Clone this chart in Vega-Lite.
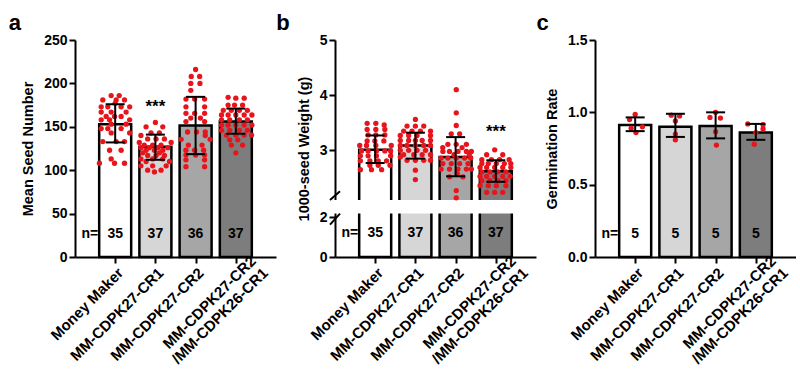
{
  "$schema": "https://vega.github.io/schema/vega-lite/v6.json",
  "padding": {"left": 8, "top": 12, "right": 0, "bottom": 0},
  "spacing": 0,
  "config": {
    "view": {"stroke": null},
    "font": "Liberation Sans",
    "axis": {"domainColor": "black", "domainWidth": 2, "tickColor": "black", "tickWidth": 2, "tickSize": 6, "labelPadding": 2, "labelColor": "black", "labelFont": "Liberation Sans", "labelFontWeight": "bold", "labelFontSize": 14, "titleFont": "Liberation Sans", "titleFontWeight": "bold", "titleFontSize": 14.5, "titleColor": "black", "titlePadding": 8, "grid": false, "labelFlush": false, "labelOverlap": false, "labelBound": false},
    "axisY": {"minExtent": 0},
    "axisX": {"title": null, "values": [0,1,2,3], "labelAngle": -45, "labelFontSize": 15,
              "labelOffset": {"condition": {"test": "datum.value == 3", "value": 12}, "value": 0},
              "labelPadding": {"condition": {"test": "datum.value == 3", "value": -10}, "value": 2},
              "labelExpr": "datum.value==0?'Money Maker':datum.value==1?'MM-CDPK27-CR1':datum.value==2?'MM-CDPK27-CR2':['MM-CDPK27-CR2\u00a0\u00a0\u00a0\u00a0','/MM-CDPK26-CR1']"},
    "title": {"anchor": "start", "frame": "bounds", "fontSize": 22, "font": "Liberation Sans", "fontWeight": "bold", "color": "black", "offset": -2},
    "text": {"font": "Liberation Sans", "fontWeight": "bold", "fontSize": 14, "color": "black"}
  },
  "datasets": {
    "sumA": [
      {"g": "MM", "m": 153, "lo": 132, "hi": 176, "n": 35, "sig": ""},
      {"g": "C1", "m": 127, "lo": 112, "hi": 141, "n": 37, "sig": "***"},
      {"g": "C2", "m": 151.5, "lo": 118.5, "hi": 184.5, "n": 36, "sig": ""},
      {"g": "C3", "m": 156, "lo": 142, "hi": 171, "n": 37, "sig": ""}
    ],
    "sumB": [
      {"g": "MM", "m": 3.01, "lo": 2.77, "hi": 3.27, "n": 35, "sig": ""},
      {"g": "C1", "m": 3.09, "lo": 2.85, "hi": 3.32, "n": 37, "sig": ""},
      {"g": "C2", "m": 2.88, "lo": 2.53, "hi": 3.24, "n": 36, "sig": ""},
      {"g": "C3", "m": 2.62, "lo": 2.43, "hi": 2.82, "n": 37, "sig": "***"}
    ],
    "sumC": [
      {"g": "MM", "m": 0.912, "lo": 0.87, "hi": 0.965, "n": 5},
      {"g": "C1", "m": 0.9, "lo": 0.83, "hi": 0.99, "n": 5},
      {"g": "C2", "m": 0.905, "lo": 0.82, "hi": 1.0, "n": 5},
      {"g": "C3", "m": 0.86, "lo": 0.81, "hi": 0.92, "n": 5}
    ],
    "ptsA": [
      {"g":"MM","v":186,"j":-0.25},{"g":"MM","v":186,"j":0.25},
      {"g":"MM","v":181,"j":-0.77},{"g":"MM","v":181,"j":0.06},{"g":"MM","v":181,"j":0.58},
      {"g":"MM","v":177,"j":0},
      {"g":"MM","v":173,"j":-0.87},{"g":"MM","v":173,"j":-0.46},{"g":"MM","v":173,"j":0.37},{"g":"MM","v":173,"j":0.9},
      {"g":"MM","v":167,"j":-0.87},{"g":"MM","v":167,"j":-0.25},{"g":"MM","v":167,"j":0.68},
      {"g":"MM","v":162,"j":-0.56},{"g":"MM","v":162,"j":-0.04},{"g":"MM","v":162,"j":0.37},
      {"g":"MM","v":158,"j":-0.87},{"g":"MM","v":158,"j":-0.35},{"g":"MM","v":158,"j":0.9},
      {"g":"MM","v":153,"j":-0.25},{"g":"MM","v":153,"j":0.68},
      {"g":"MM","v":148,"j":-0.87},{"g":"MM","v":148,"j":-0.46},{"g":"MM","v":148,"j":0.37},
      {"g":"MM","v":143,"j":-0.25},{"g":"MM","v":143,"j":0.9},
      {"g":"MM","v":133,"j":-0.77},{"g":"MM","v":133,"j":0.06},{"g":"MM","v":133,"j":0.58},
      {"g":"MM","v":123,"j":-0.35},{"g":"MM","v":123,"j":0.37},
      {"g":"MM","v":113,"j":-0.25},
      {"g":"MM","v":108,"j":-0.98},{"g":"MM","v":108,"j":-0.04},{"g":"MM","v":108,"j":0.58},
      {"g":"C1","v":155,"j":0},
      {"g":"C1","v":150,"j":-0.58},{"g":"C1","v":150,"j":0.46},
      {"g":"C1","v":143,"j":-0.27},{"g":"C1","v":143,"j":0.25},
      {"g":"C1","v":140,"j":-0.9},
      {"g":"C1","v":136,"j":-0.48},{"g":"C1","v":136,"j":0.04},{"g":"C1","v":136,"j":0.56},
      {"g":"C1","v":132,"j":-1.0},{"g":"C1","v":132,"j":0.98},
      {"g":"C1","v":129,"j":-0.69},{"g":"C1","v":129,"j":-0.17},{"g":"C1","v":129,"j":0.35},
      {"g":"C1","v":126,"j":-0.9},{"g":"C1","v":126,"j":-0.38},{"g":"C1","v":126,"j":0.15},{"g":"C1","v":126,"j":0.77},
      {"g":"C1","v":123,"j":-0.58},{"g":"C1","v":123,"j":-0.06},{"g":"C1","v":123,"j":0.46},
      {"g":"C1","v":120,"j":-0.79},{"g":"C1","v":120,"j":0.25},
      {"g":"C1","v":117,"j":-0.48},{"g":"C1","v":117,"j":0.04},{"g":"C1","v":117,"j":0.56},
      {"g":"C1","v":113,"j":-0.9},{"g":"C1","v":113,"j":-0.17},{"g":"C1","v":113,"j":0.46},
      {"g":"C1","v":110,"j":-0.58},{"g":"C1","v":110,"j":0.88},
      {"g":"C1","v":105,"j":-0.9},{"g":"C1","v":105,"j":-0.17},{"g":"C1","v":105,"j":0.67},
      {"g":"C1","v":100,"j":-0.48},{"g":"C1","v":100,"j":0.35},
      {"g":"C1","v":98,"j":-0.06},
      {"g":"C2","v":216,"j":0},
      {"g":"C2","v":208,"j":-0.27},{"g":"C2","v":208,"j":0.25},
      {"g":"C2","v":200,"j":-0.3},{"g":"C2","v":200,"j":0.27},
      {"g":"C2","v":192,"j":-0.3},
      {"g":"C2","v":182,"j":-0.6},{"g":"C2","v":182,"j":-0.06},{"g":"C2","v":182,"j":0.56},
      {"g":"C2","v":173,"j":-0.6},{"g":"C2","v":173,"j":0.56},
      {"g":"C2","v":165.5,"j":-0.6},{"g":"C2","v":165.5,"j":-0.06},{"g":"C2","v":165.5,"j":0.56},
      {"g":"C2","v":160,"j":-0.3},{"g":"C2","v":160,"j":0.3},
      {"g":"C2","v":156,"j":-0.6},{"g":"C2","v":156,"j":0.56},
      {"g":"C2","v":144,"j":-0.5},{"g":"C2","v":144,"j":0.06},{"g":"C2","v":144,"j":0.6},
      {"g":"C2","v":140,"j":0.6},
      {"g":"C2","v":135.6,"j":-0.9},{"g":"C2","v":135.6,"j":0.9},
      {"g":"C2","v":129,"j":-0.45},{"g":"C2","v":129,"j":0.4},
      {"g":"C2","v":123,"j":-0.6},{"g":"C2","v":123,"j":-0.06},{"g":"C2","v":123,"j":0.5},
      {"g":"C2","v":117.5,"j":-0.6},{"g":"C2","v":117.5,"j":0},{"g":"C2","v":117.5,"j":0.56},
      {"g":"C2","v":112,"j":-0.6},{"g":"C2","v":112,"j":0.56},
      {"g":"C2","v":104,"j":-0.6},{"g":"C2","v":104,"j":0.56},
      {"g":"C3","v":184,"j":-0.48},
      {"g":"C3","v":183,"j":0},{"g":"C3","v":183,"j":0.52},
      {"g":"C3","v":175,"j":-0.48},{"g":"C3","v":175,"j":-0.08},{"g":"C3","v":175,"j":0.42},
      {"g":"C3","v":169,"j":-0.78},{"g":"C3","v":169,"j":-0.28},{"g":"C3","v":169,"j":0.22},{"g":"C3","v":169,"j":0.72},
      {"g":"C3","v":163.6,"j":-0.89},{"g":"C3","v":163.6,"j":-0.48},{"g":"C3","v":163.6,"j":0},{"g":"C3","v":163.6,"j":0.52},{"g":"C3","v":163.6,"j":1.0},
      {"g":"C3","v":158,"j":-0.89},{"g":"C3","v":158,"j":-0.38},{"g":"C3","v":158,"j":0.22},{"g":"C3","v":158,"j":0.72},
      {"g":"C3","v":152,"j":-0.89},{"g":"C3","v":152,"j":-0.48},{"g":"C3","v":152,"j":0},{"g":"C3","v":152,"j":0.52},{"g":"C3","v":152,"j":1.0},
      {"g":"C3","v":146,"j":-0.89},{"g":"C3","v":146,"j":-0.38},{"g":"C3","v":146,"j":0.22},{"g":"C3","v":146,"j":0.72},
      {"g":"C3","v":140.5,"j":-0.58},{"g":"C3","v":140.5,"j":0},{"g":"C3","v":140.5,"j":0.52},{"g":"C3","v":140.5,"j":0.98},
      {"g":"C3","v":135,"j":-0.38},{"g":"C3","v":135,"j":0.12},
      {"g":"C3","v":129,"j":-0.28},{"g":"C3","v":129,"j":0.42},
      {"g":"C3","v":120,"j":0}
    ],
    "ptsB": [
      {"g":"MM","v":3.49,"j":-0.5},{"g":"MM","v":3.49,"j":0.04},
      {"g":"MM","v":3.46,"j":0.56},
      {"g":"MM","v":3.38,"j":-0.5},{"g":"MM","v":3.38,"j":0.04},{"g":"MM","v":3.38,"j":0.6},
      {"g":"MM","v":3.28,"j":-0.44},{"g":"MM","v":3.28,"j":0.04},{"g":"MM","v":3.28,"j":0.6},
      {"g":"MM","v":3.17,"j":-0.5},{"g":"MM","v":3.17,"j":-0.02},{"g":"MM","v":3.17,"j":0.54},
      {"g":"MM","v":3.09,"j":-0.96},{"g":"MM","v":3.09,"j":-0.54},{"g":"MM","v":3.09,"j":0.04},{"g":"MM","v":3.09,"j":1.0},
      {"g":"MM","v":2.99,"j":-0.85},{"g":"MM","v":2.99,"j":-0.44},{"g":"MM","v":2.99,"j":0.08},{"g":"MM","v":2.99,"j":0.6},{"g":"MM","v":2.99,"j":0.96},
      {"g":"MM","v":2.9,"j":-0.92},{"g":"MM","v":2.9,"j":-0.44},{"g":"MM","v":2.9,"j":0.08},{"g":"MM","v":2.9,"j":0.96},
      {"g":"MM","v":2.81,"j":-0.92},{"g":"MM","v":2.81,"j":-0.33},{"g":"MM","v":2.81,"j":0.19},{"g":"MM","v":2.81,"j":0.71},
      {"g":"MM","v":2.73,"j":-0.33},{"g":"MM","v":2.73,"j":0.19},{"g":"MM","v":2.73,"j":0.92},
      {"g":"MM","v":2.65,"j":-0.92},{"g":"MM","v":2.65,"j":-0.23},{"g":"MM","v":2.65,"j":0.4},
      {"g":"C1","v":3.56,"j":0},
      {"g":"C1","v":3.44,"j":-0.52},{"g":"C1","v":3.44,"j":0},{"g":"C1","v":3.44,"j":0.52},
      {"g":"C1","v":3.35,"j":-0.73},{"g":"C1","v":3.35,"j":-0.21},{"g":"C1","v":3.35,"j":0.31},{"g":"C1","v":3.35,"j":0.94},
      {"g":"C1","v":3.27,"j":-0.94},{"g":"C1","v":3.27,"j":-0.42},{"g":"C1","v":3.27,"j":0.1},{"g":"C1","v":3.27,"j":0.94},
      {"g":"C1","v":3.18,"j":-0.94},{"g":"C1","v":3.18,"j":-0.42},{"g":"C1","v":3.18,"j":0},{"g":"C1","v":3.18,"j":0.42},{"g":"C1","v":3.18,"j":0.94},
      {"g":"C1","v":3.09,"j":-0.94},{"g":"C1","v":3.09,"j":-0.52},{"g":"C1","v":3.09,"j":0},{"g":"C1","v":3.09,"j":0.52},{"g":"C1","v":3.09,"j":0.94},
      {"g":"C1","v":3.0,"j":-0.94},{"g":"C1","v":3.0,"j":-0.42},{"g":"C1","v":3.0,"j":0.1},{"g":"C1","v":3.0,"j":0.63},
      {"g":"C1","v":2.92,"j":-0.73},{"g":"C1","v":2.92,"j":-0.1},{"g":"C1","v":2.92,"j":0.42},{"g":"C1","v":2.92,"j":0.94},
      {"g":"C1","v":2.82,"j":-0.52},{"g":"C1","v":2.82,"j":0},{"g":"C1","v":2.82,"j":0.52},{"g":"C1","v":2.82,"j":0.94},
      {"g":"C1","v":2.88,"j":-0.94},
      {"g":"C1","v":2.64,"j":0},
      {"g":"C1","v":2.47,"j":0},
      {"g":"C2","v":4.1,"j":0.04},
      {"g":"C2","v":3.68,"j":0.04},
      {"g":"C2","v":3.45,"j":0.04},
      {"g":"C2","v":3.3,"j":-0.27},{"g":"C2","v":3.3,"j":0.25},
      {"g":"C2","v":3.11,"j":-0.48},{"g":"C2","v":3.11,"j":0.04},{"g":"C2","v":3.11,"j":0.67},
      {"g":"C2","v":3.05,"j":-0.8},{"g":"C2","v":3.05,"j":0.4},
      {"g":"C2","v":2.98,"j":-0.79},{"g":"C2","v":2.98,"j":-0.38},{"g":"C2","v":2.98,"j":0.15},{"g":"C2","v":2.98,"j":0.67},{"g":"C2","v":2.98,"j":0.98},
      {"g":"C2","v":2.92,"j":-0.1},{"g":"C2","v":2.92,"j":0.85},
      {"g":"C2","v":2.86,"j":-0.9},{"g":"C2","v":2.86,"j":-0.48},{"g":"C2","v":2.86,"j":0.04},{"g":"C2","v":2.86,"j":0.56},{"g":"C2","v":2.86,"j":0.94},
      {"g":"C2","v":2.76,"j":-0.79},{"g":"C2","v":2.76,"j":-0.27},{"g":"C2","v":2.76,"j":0.25},{"g":"C2","v":2.76,"j":0.77},
      {"g":"C2","v":2.66,"j":-0.9},{"g":"C2","v":2.66,"j":-0.38},{"g":"C2","v":2.66,"j":0.15},{"g":"C2","v":2.66,"j":0.67},{"g":"C2","v":2.66,"j":0.98},
      {"g":"C2","v":2.58,"j":0.1},
      {"g":"C2","v":2.52,"j":-0.38},{"g":"C2","v":2.52,"j":0.46},
      {"g":"C2","v":2.27,"j":0.04},
      {"g":"C2","v":2.14,"j":0.04},
      {"g":"C3","v":3.01,"j":-0.07},
      {"g":"C3","v":2.92,"j":-0.57},{"g":"C3","v":2.92,"j":0.43},
      {"g":"C3","v":2.83,"j":-0.87},{"g":"C3","v":2.83,"j":-0.27},{"g":"C3","v":2.83,"j":0.23},{"g":"C3","v":2.83,"j":0.83},
      {"g":"C3","v":2.76,"j":-0.87},{"g":"C3","v":2.76,"j":-0.47},{"g":"C3","v":2.76,"j":0.03},{"g":"C3","v":2.76,"j":0.53},{"g":"C3","v":2.76,"j":0.93},
      {"g":"C3","v":2.69,"j":-0.98},{"g":"C3","v":2.69,"j":-0.57},{"g":"C3","v":2.69,"j":-0.07},{"g":"C3","v":2.69,"j":0.43},{"g":"C3","v":2.69,"j":0.93},
      {"g":"C3","v":2.61,"j":-0.87},{"g":"C3","v":2.61,"j":-0.37},{"g":"C3","v":2.61,"j":0.13},{"g":"C3","v":2.61,"j":0.63},
      {"g":"C3","v":2.53,"j":-0.98},{"g":"C3","v":2.53,"j":-0.57},{"g":"C3","v":2.53,"j":-0.07},{"g":"C3","v":2.53,"j":0.43},{"g":"C3","v":2.53,"j":0.89},
      {"g":"C3","v":2.45,"j":-0.87},{"g":"C3","v":2.45,"j":-0.37},{"g":"C3","v":2.45,"j":0.13},{"g":"C3","v":2.45,"j":0.63},
      {"g":"C3","v":2.36,"j":-0.98},{"g":"C3","v":2.36,"j":-0.47},{"g":"C3","v":2.36,"j":0.03},{"g":"C3","v":2.36,"j":0.63},
      {"g":"C3","v":2.24,"j":-0.57},{"g":"C3","v":2.24,"j":-0.07},{"g":"C3","v":2.24,"j":0.43}
    ],
    "ptsC": [
      {"g":"MM","v":0.985,"j":0},{"g":"MM","v":0.95,"j":-0.35},{"g":"MM","v":0.9,"j":0.45},{"g":"MM","v":0.89,"j":-0.25},{"g":"MM","v":0.86,"j":0.05},
      {"g":"C1","v":0.98,"j":-0.26},{"g":"C1","v":0.975,"j":0.26},{"g":"C1","v":0.94,"j":0},{"g":"C1","v":0.85,"j":0},{"g":"C1","v":0.81,"j":0},
      {"g":"C2","v":1.0,"j":0},{"g":"C2","v":0.965,"j":-0.35},{"g":"C2","v":0.96,"j":0.3},{"g":"C2","v":0.866,"j":0},{"g":"C2","v":0.774,"j":0.05},
      {"g":"C3","v":0.92,"j":-0.5},{"g":"C3","v":0.915,"j":0.45},{"g":"C3","v":0.885,"j":0.45},{"g":"C3","v":0.86,"j":0},{"g":"C3","v":0.78,"j":-0.1}
    ]
  },
  "hconcat": [
    {
      "width": 201, "height": 217,
      "title": {"text": "a", "dx": -12},
      "layer": [
        {"data": {"name": "sumA"}, "transform": [{"calculate": "indexof(['MM','C1','C2','C3'], datum.g)", "as": "i"}],
         "mark": {"type": "bar", "width": 32, "stroke": "black", "strokeWidth": 2.5},
         "encoding": {
           "x": {"field": "i", "type": "quantitative", "scale": {"domain": [-0.875, 3.875], "nice": false, "zero": false}},
           "y": {"field": "m", "type": "quantitative", "scale": {"domain": [0, 250], "nice": false}, "axis": {"title": "Mean Seed Number", "values": [0,50,100,150,200,250]}},
           "fill": {"field": "g", "type": "nominal", "scale": {"domain": ["MM","C1","C2","C3"], "range": ["#ffffff","#d6d6d6","#a6a6a6","#7d7d7d"]}, "legend": null}
         }},
        {"data": {"name": "ptsA"}, "transform": [{"calculate": "indexof(['MM','C1','C2','C3'], datum.g) + datum.j * 0.4", "as": "px"}],
         "mark": {"type": "circle", "color": "#e8141c", "size": 28, "opacity": 1},
         "encoding": {"x": {"field": "px", "type": "quantitative"}, "y": {"field": "v", "type": "quantitative"}}},
        {"data": {"name": "sumA"}, "transform": [{"calculate": "indexof(['MM','C1','C2','C3'], datum.g)", "as": "i"}],
         "layer": [
           {"mark": {"type": "rule", "strokeWidth": 2, "color": "black"},
            "encoding": {"x": {"field": "i", "type": "quantitative"}, "y": {"field": "lo", "type": "quantitative"}, "y2": {"field": "hi"}}},
           {"mark": {"type": "tick", "orient": "horizontal", "size": 19, "thickness": 2, "color": "black", "opacity": 1},
            "encoding": {"x": {"field": "i", "type": "quantitative"}, "y": {"field": "lo", "type": "quantitative"}}},
           {"mark": {"type": "tick", "orient": "horizontal", "size": 19, "thickness": 2, "color": "black", "opacity": 1},
            "encoding": {"x": {"field": "i", "type": "quantitative"}, "y": {"field": "hi", "type": "quantitative"}}},
           {"mark": {"type": "text", "baseline": "middle"},
            "encoding": {"x": {"field": "i", "type": "quantitative"}, "y": {"datum": 27}, "text": {"field": "n"}}},
           {"transform": [{"filter": "datum.sig != ''"}], "mark": {"type": "text", "baseline": "middle", "fontSize": 17, "dy": -28},
            "encoding": {"x": {"field": "i", "type": "quantitative"}, "y": {"field": "hi", "type": "quantitative"}, "text": {"field": "sig"}}}
         ]},
        {"data": {"values": [{"t": "n="}]}, "mark": {"type": "text", "baseline": "middle", "align": "right", "dx": -17},
         "encoding": {"x": {"datum": 0}, "y": {"datum": 27}, "text": {"field": "t"}}}
      ]
    },
    {
      "width": 201, "height": 217,
      "title": {"text": "b", "dx": -20},
      "layer": [
        {"data": {"name": "sumB"}, "transform": [{"calculate": "indexof(['MM','C1','C2','C3'], datum.g)", "as": "i"}],
         "mark": {"type": "bar", "width": 32, "stroke": "black", "strokeWidth": 2.5},
         "encoding": {
           "x": {"field": "i", "type": "quantitative", "scale": {"domain": [-0.875, 3.875], "nice": false, "zero": false}},
           "y": {"field": "m", "type": "quantitative", "scale": {"domain": [0, 2, 2.1, 5], "range": [217, 177, 160, 0], "nice": false, "zero": false}, "axis": {"title": "1000-seed Weight (g)", "values": [0,2,3,4,5]}},
           "fill": {"field": "g", "type": "nominal", "scale": {"domain": ["MM","C1","C2","C3"], "range": ["#ffffff","#d6d6d6","#a6a6a6","#7d7d7d"]}, "legend": null}
         }},
        {"data": {"values": [{}]}, "mark": {"type": "rect", "color": "white"},
         "encoding": {"x": {"value": -4}, "x2": {"value": "width"}, "y": {"datum": 2.02}, "y2": {"datum": 2.1}}},
        {"data": {"name": "ptsB"}, "transform": [{"calculate": "indexof(['MM','C1','C2','C3'], datum.g) + datum.j * 0.4", "as": "px"}],
         "mark": {"type": "circle", "color": "#e8141c", "size": 28, "opacity": 1},
         "encoding": {"x": {"field": "px", "type": "quantitative"}, "y": {"field": "v", "type": "quantitative"}}},
        {"data": {"name": "sumB"}, "transform": [{"calculate": "indexof(['MM','C1','C2','C3'], datum.g)", "as": "i"}],
         "layer": [
           {"mark": {"type": "rule", "strokeWidth": 2, "color": "black"},
            "encoding": {"x": {"field": "i", "type": "quantitative"}, "y": {"field": "lo", "type": "quantitative"}, "y2": {"field": "hi"}}},
           {"mark": {"type": "tick", "orient": "horizontal", "size": 19, "thickness": 2, "color": "black", "opacity": 1},
            "encoding": {"x": {"field": "i", "type": "quantitative"}, "y": {"field": "lo", "type": "quantitative"}}},
           {"mark": {"type": "tick", "orient": "horizontal", "size": 19, "thickness": 2, "color": "black", "opacity": 1},
            "encoding": {"x": {"field": "i", "type": "quantitative"}, "y": {"field": "hi", "type": "quantitative"}}},
           {"mark": {"type": "text", "baseline": "middle"},
            "encoding": {"x": {"field": "i", "type": "quantitative"}, "y": {"datum": 1.2}, "text": {"field": "n"}}},
           {"transform": [{"filter": "datum.sig != ''"}], "mark": {"type": "text", "baseline": "middle", "fontSize": 17, "dy": -28},
            "encoding": {"x": {"field": "i", "type": "quantitative"}, "y": {"field": "hi", "type": "quantitative"}, "text": {"field": "sig"}}}
         ]},
        {"data": {"values": [{"t": "n="}]}, "mark": {"type": "text", "baseline": "middle", "align": "right", "dx": -17},
         "encoding": {"x": {"datum": 0}, "y": {"datum": 1.2}, "text": {"field": "t"}}},
        {"data": {"values": [{"a": 2.1, "b": 2.26}, {"a": 1.62, "b": 2.02}]}, "mark": {"type": "rule", "strokeWidth": 2, "color": "black"},
         "encoding": {"x": {"value": -5}, "x2": {"value": 5}, "y": {"field": "a", "type": "quantitative"}, "y2": {"field": "b"}}}
      ]
    },
    {
      "width": 201, "height": 217,
      "title": {"text": "c", "dx": -8},
      "layer": [
        {"data": {"name": "sumC"}, "transform": [{"calculate": "indexof(['MM','C1','C2','C3'], datum.g)", "as": "i"}],
         "mark": {"type": "bar", "width": 32, "stroke": "black", "strokeWidth": 2.5},
         "encoding": {
           "x": {"field": "i", "type": "quantitative", "scale": {"domain": [-0.875, 3.875], "nice": false, "zero": false}},
           "y": {"field": "m", "type": "quantitative", "scale": {"domain": [0, 1.5], "nice": false}, "axis": {"title": "Germination Rate", "values": [0,0.5,1,1.5], "format": ".1f"}},
           "fill": {"field": "g", "type": "nominal", "scale": {"domain": ["MM","C1","C2","C3"], "range": ["#ffffff","#d6d6d6","#a6a6a6","#7d7d7d"]}, "legend": null}
         }},
        {"data": {"name": "ptsC"}, "transform": [{"calculate": "indexof(['MM','C1','C2','C3'], datum.g) + datum.j * 0.4", "as": "px"}],
         "mark": {"type": "circle", "color": "#e8141c", "size": 28, "opacity": 1},
         "encoding": {"x": {"field": "px", "type": "quantitative"}, "y": {"field": "v", "type": "quantitative"}}},
        {"data": {"name": "sumC"}, "transform": [{"calculate": "indexof(['MM','C1','C2','C3'], datum.g)", "as": "i"}],
         "layer": [
           {"mark": {"type": "rule", "strokeWidth": 2, "color": "black"},
            "encoding": {"x": {"field": "i", "type": "quantitative"}, "y": {"field": "lo", "type": "quantitative"}, "y2": {"field": "hi"}}},
           {"mark": {"type": "tick", "orient": "horizontal", "size": 19, "thickness": 2, "color": "black", "opacity": 1},
            "encoding": {"x": {"field": "i", "type": "quantitative"}, "y": {"field": "lo", "type": "quantitative"}}},
           {"mark": {"type": "tick", "orient": "horizontal", "size": 19, "thickness": 2, "color": "black", "opacity": 1},
            "encoding": {"x": {"field": "i", "type": "quantitative"}, "y": {"field": "hi", "type": "quantitative"}}},
           {"mark": {"type": "text", "baseline": "middle"},
            "encoding": {"x": {"field": "i", "type": "quantitative"}, "y": {"datum": 0.16}, "text": {"field": "n"}}}
         ]},
        {"data": {"values": [{"t": "n="}]}, "mark": {"type": "text", "baseline": "middle", "align": "right", "dx": -17},
         "encoding": {"x": {"datum": 0}, "y": {"datum": 0.16}, "text": {"field": "t"}}}
      ]
    }
  ]
}
